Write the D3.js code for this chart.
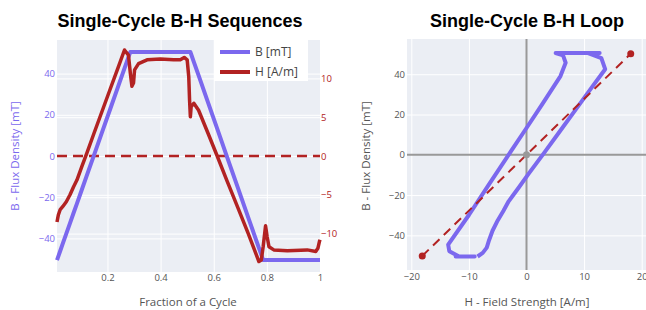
<!DOCTYPE html>
<html>
<head>
<meta charset="utf-8">
<script src="https://cdn.jsdelivr.net/npm/d3@7"></script>
<style>
body{margin:0;background:#fff;}
svg{display:block;font-family:"Open Sans",sans-serif;}
</style>
</head>
<body>
<svg id="chart" width="646" height="310"></svg>
<script>
// one cycle, sampled
let cycle  = [0.010,0.015,0.022,0.032,0.045,0.059,0.072,0.085,0.103,0.122,0.150,0.180,0.210,0.240,0.264,0.279,0.286,
              0.292,0.298,0.302,0.317,0.349,0.399,0.449,0.474,0.489,0.500,0.506,0.509,0.512,0.515,0.525,0.543,0.580,
              0.613,0.650,0.690,0.730,0.770,0.779,0.786,0.795,0.801,0.808,0.826,0.877,0.952,0.984,0.992,0.998,1.000];
let fluxB  = [-50.5,-48.7,-46.1,-42.4,-37.7,-32.6,-27.8,-23.1,-16.5,-9.5,0.7,11.7,22.7,33.7,42.5,48.0,50.5,
              50.5,50.5,50.5,50.5,50.5,50.5,50.5,50.5,50.5,50.5,50.5,50.5,50.5,49.4,45.7,39.1,25.4,
              13.3,-0.4,-15.1,-29.9,-44.6,-47.9,-50.5,-50.5,-50.5,-50.5,-50.5,-50.5,-50.5,-50.5,-50.5,-50.5,-50.5];
let fieldH = [-8.5,-7.6,-6.9,-6.5,-5.9,-5.0,-4.0,-3.1,-1.4,0.35,3.0,5.8,8.6,11.4,13.66,13.0,10.7,
              9.0,9.4,11.1,11.9,12.4,12.5,12.4,12.4,12.7,12.4,10.2,7.2,5.06,6.35,6.8,5.9,2.8,
              0.0,-3.2,-6.6,-10.0,-13.6,-13.4,-11.7,-9.0,-10.4,-11.7,-12.1,-12.2,-12.1,-12.3,-11.9,-11.0,-10.8];

// straight reference line on the loop plot
let fitH = [-18.1, 18.1];
let fitB = [-50.2, 50.2];

let cycleTicks = [0.2, 0.4, 0.6, 0.8, 1];
let bTicks = [-40, -20, 0, 20, 40];
let hTicks = [-10, -5, 0, 5, 10];
let loopHTicks = [-20, -10, 0, 10, 20];

let blue = "#7B68EE", red = "#B22222", grey = "#555";
let bg = "#EBEEF4";

let svg = d3.select("#chart");
let fmt = d3.format("");

// ---------- left: sequences ----------
let seq = {};
seq.x  = d3.scaleLinear().domain([0.01, 1]).range([57, 320]);
seq.yB = d3.scaleLinear().domain([-56.3, 56.3]).range([272, 40]);
seq.yH = d3.scaleLinear().domain([-14.95, 14.95]).range([272, 40]);

seq.g = svg.append("g");
seq.g.append("rect").attr("x", 57).attr("y", 40).attr("width", 263).attr("height", 232).attr("fill", bg);

// grid for both y axes + x
seq.g.append("g").attr("transform", "translate(57,0)")
    .call(d3.axisLeft(seq.yB).tickValues(bTicks).tickSize(-263).tickFormat(""))
    .call(g => g.select(".domain").remove())
    .selectAll("line").attr("stroke", "#fff").attr("stroke-width", 1);
seq.g.append("g").attr("transform", "translate(57,0)")
    .call(d3.axisLeft(seq.yH).tickValues(hTicks).tickSize(-263).tickFormat(""))
    .call(g => g.select(".domain").remove())
    .selectAll("line").attr("stroke", "#fff").attr("stroke-width", 1);
seq.g.append("g").attr("transform", "translate(0,272)")
    .call(d3.axisBottom(seq.x).tickValues(cycleTicks).tickSize(-232).tickFormat(""))
    .call(g => g.select(".domain").remove())
    .selectAll("line").attr("stroke", "#fff").attr("stroke-width", 1);

// tick labels
seq.g.append("g").attr("transform", "translate(55,0)")
    .call(d3.axisLeft(seq.yB).tickValues(bTicks).tickSize(0).tickPadding(0).tickFormat(fmt))
    .call(g => g.select(".domain").remove())
    .selectAll("text").attr("fill", blue).style("font-size", "9.5px").style("font-family", "Open Sans");
seq.g.append("g").attr("transform", "translate(321,0)")
    .call(d3.axisRight(seq.yH).tickValues(hTicks).tickSize(0).tickPadding(0).tickFormat(fmt))
    .call(g => g.select(".domain").remove())
    .selectAll("text").attr("fill", red).style("font-size", "9.5px").style("font-family", "Open Sans");
seq.g.append("g").attr("transform", "translate(0,274)")
    .call(d3.axisBottom(seq.x).tickValues(cycleTicks).tickSize(0).tickPadding(0).tickFormat(fmt))
    .call(g => g.select(".domain").remove())
    .selectAll("text").attr("fill", grey).style("font-size", "9.5px").style("font-family", "Open Sans");

// H = 0 dashed
seq.g.append("line")
    .attr("x1", 57).attr("x2", 320).attr("y1", seq.yH(0)).attr("y2", seq.yH(0))
    .attr("stroke", red).attr("stroke-width", 2.5).attr("stroke-dasharray", "10,6");

let idx = d3.range(cycle.length);
seq.g.append("path").datum(idx)
    .attr("fill", "none").attr("stroke", blue).attr("stroke-width", 4).attr("stroke-linejoin", "round")
    .attr("d", d3.line().x(i => seq.x(cycle[i])).y(i => seq.yB(fluxB[i])));
seq.g.append("path").datum(idx)
    .attr("fill", "none").attr("stroke", red).attr("stroke-width", 3.5).attr("stroke-linejoin", "round")
    .attr("d", d3.line().x(i => seq.x(cycle[i])).y(i => seq.yH(fieldH[i])));

// legend
let leg = seq.g.append("g");
leg.append("rect").attr("x", 214).attr("y", 40).attr("width", 94).attr("height", 41).attr("fill", "#fff");
[["B [mT]", blue], ["H [A/m]", red]].forEach((d, i) => {
    let y = 52 + i * 20;
    leg.append("line").attr("x1", 220).attr("x2", 250).attr("y1", y).attr("y2", y)
        .attr("stroke", d[1]).attr("stroke-width", 4);
    leg.append("text").attr("x", 255).attr("y", y).attr("dy", "0.35em")
        .attr("fill", "#444").style("font-size", "12px").text(d[0]);
});

seq.g.append("text").attr("x", 180).attr("y", 27).attr("text-anchor", "middle")
    .style("font-family", "'Liberation Sans', Arial, sans-serif").style("font-weight", "bold").style("font-size", "18px")
    .text("Single-Cycle B-H Sequences");
seq.g.append("text").attr("x", 188).attr("y", 306).attr("text-anchor", "middle")
    .attr("fill", grey).style("font-size", "11.5px").text("Fraction of a Cycle");
seq.g.append("text").attr("transform", "translate(19,156) rotate(-90)").attr("text-anchor", "middle")
    .attr("fill", blue).style("font-size", "11.5px").text("B - Flux Density [mT]");

// ---------- right: loop ----------
let loop = {};
loop.x = d3.scaleLinear().domain([-20.75, 20.75]).range([407, 646]);
loop.y = d3.scaleLinear().domain([-57.2, 57.5]).range([270, 39]);
loop.g = svg.append("g");
loop.g.append("rect").attr("x", 407).attr("y", 39).attr("width", 239).attr("height", 231).attr("fill", bg);

loop.g.append("g").attr("transform", "translate(407,0)")
    .call(d3.axisLeft(loop.y).tickValues(bTicks.filter(v => v != 0)).tickSize(-239).tickFormat(""))
    .call(g => g.select(".domain").remove())
    .selectAll("line").attr("stroke", "#fff").attr("stroke-width", 1);
loop.g.append("g").attr("transform", "translate(0,270)")
    .call(d3.axisBottom(loop.x).tickValues(loopHTicks.filter(v => v != 0)).tickSize(-231).tickFormat(""))
    .call(g => g.select(".domain").remove())
    .selectAll("line").attr("stroke", "#fff").attr("stroke-width", 1);

// zero lines
loop.g.append("line").attr("x1", 407).attr("x2", 646).attr("y1", loop.y(0)).attr("y2", loop.y(0))
    .attr("stroke", "#999").attr("stroke-width", 2);
loop.g.append("line").attr("x1", loop.x(0)).attr("x2", loop.x(0)).attr("y1", 39).attr("y2", 270)
    .attr("stroke", "#999").attr("stroke-width", 2);

loop.g.append("g").attr("transform", "translate(405,0)")
    .call(d3.axisLeft(loop.y).tickValues(bTicks).tickSize(0).tickPadding(0).tickFormat(fmt))
    .call(g => g.select(".domain").remove())
    .selectAll("text").attr("fill", grey).style("font-size", "9.5px").style("font-family", "Open Sans");
loop.g.append("g").attr("transform", "translate(0,273)")
    .call(d3.axisBottom(loop.x).tickValues(loopHTicks).tickSize(0).tickPadding(0).tickFormat(fmt))
    .call(g => g.select(".domain").remove())
    .selectAll("text").attr("fill", grey).style("font-size", "9.5px").style("font-family", "Open Sans");

loop.g.append("path").datum(idx)
    .attr("fill", "none").attr("stroke", blue).attr("stroke-width", 4).attr("stroke-linejoin", "round")
    .attr("d", d3.line().x(i => loop.x(fieldH[i])).y(i => loop.y(fluxB[i])));

loop.g.append("path").datum([0, 1])
    .attr("fill", "none").attr("stroke", red).attr("stroke-width", 2).attr("stroke-dasharray", "9,6")
    .attr("d", d3.line().x(i => loop.x(fitH[i])).y(i => loop.y(fitB[i])));
loop.g.selectAll("circle.fit").data([0, 1]).join("circle").attr("class", "fit")
    .attr("cx", i => loop.x(fitH[i])).attr("cy", i => loop.y(fitB[i])).attr("r", 3.5).attr("fill", red);
loop.g.append("circle").attr("cx", loop.x(0)).attr("cy", loop.y(0)).attr("r", 3.5).attr("fill", "#999");

loop.g.append("text").attr("x", 527).attr("y", 27).attr("text-anchor", "middle")
    .style("font-family", "'Liberation Sans', Arial, sans-serif").style("font-weight", "bold").style("font-size", "18px")
    .text("Single-Cycle B-H Loop");
loop.g.append("text").attr("x", 527).attr("y", 306).attr("text-anchor", "middle")
    .attr("fill", grey).style("font-size", "11.5px").text("H - Field Strength [A/m]");
loop.g.append("text").attr("transform", "translate(370,156) rotate(-90)").attr("text-anchor", "middle")
    .attr("fill", grey).style("font-size", "11.5px").text("B - Flux Density [mT]");
</script>
</body>
</html>
